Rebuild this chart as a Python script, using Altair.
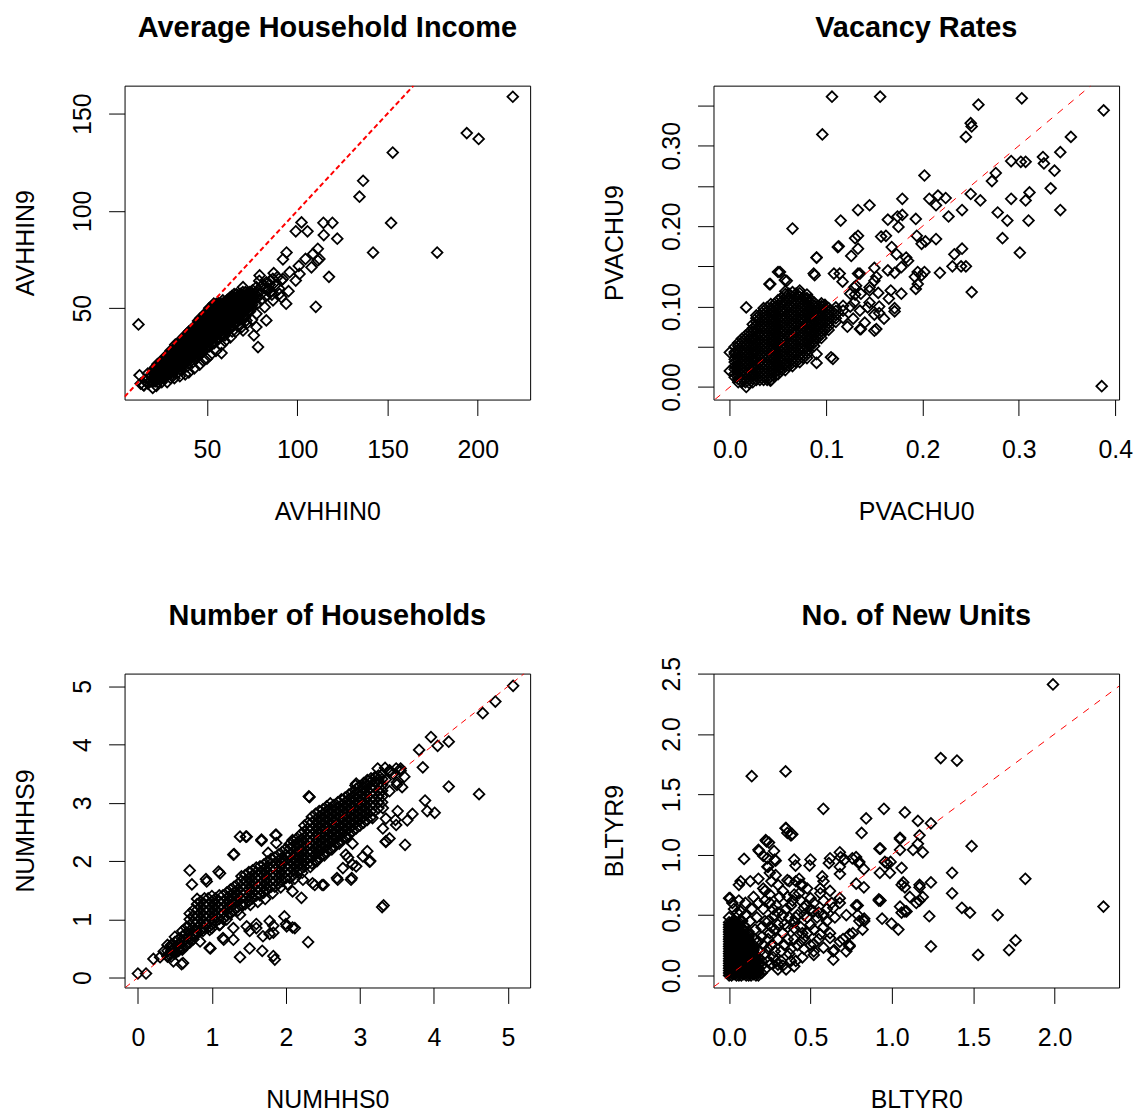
import altair as alt
import pandas as pd

FONT = "Liberation Sans"

# ---------------- Panel 1: Average Household Income ----------------
avhhin_pairs = [
    (219.4, 158.7), (193.9, 140.0), (200.5, 137.0), (152.9, 130.0), (136.5, 115.5),
    (134.5, 107.3), (152.0, 93.8), (142.0, 78.6), (177.5, 78.6), (102.4, 94.1),
    (99.2, 89.5), (105.7, 89.5), (114.5, 93.9), (119.5, 93.9), (114.7, 87.6),
    (122.2, 85.7), (94.1, 78.6), (92.1, 75.1), (108.8, 77.9), (111.4, 80.5),
    (112.3, 75.3), (107.9, 71.0), (104.6, 75.3), (100.9, 71.7), (101.3, 67.6),
    (95.8, 68.5), (99.2, 64.2), (117.6, 66.1), (110.3, 50.7), (79.2, 66.8),
    (86.5, 65.1), (95.2, 58.7), (91.2, 55.6), (93.9, 52.3), (77.4, 40.3),
    (78.3, 30.0), (12.1, 41.6), (58.1, 26.9), (91.2, 64.2), (111.4, 74.5),
    (82.9, 63.3), (83.8, 59.1), (77.4, 60.8), (74.6, 57.3), (90.2, 57.3),
    (86.6, 54.0), (70.0, 60.8), (71.9, 55.6), (68.2, 52.2), (64.5, 48.8),
    (77.4, 47.1), (71.9, 43.7), (82.0, 50.5), (82.9, 43.7), (70.0, 38.5),
    (12.7, 15.5), (14.9, 10.4), (13.3, 11.2),
    (20, 9), (22, 10), (25, 12), (28, 12), (30, 14), (32, 14), (35, 15), (38, 16),
    (40, 17), (43, 19), (46, 21), (48, 23), (50, 24), (52, 26), (55, 28), (58, 31),
    (60, 33), (63, 35), (66, 38), (69, 40), (72, 42), (75, 44), (76, 36),
    (46, 26), (44, 24), (42, 22), (39, 20), (36, 18), (34, 17), (31, 16),
    (28, 17), (26, 14), (23, 12), (54, 32), (56, 34), (60, 36), (64, 38), (68, 41),
    (71, 45), (84, 60), (85, 64), (86, 57), (88, 62), (89, 66), (90, 60), (92, 65),
    (87, 68), (81, 62), (79, 64),
]
avhhin_dense = [
    (15.2, 10.3), (15.6, 13.1), (17.4, 11.2), (17.8, 14.2), (17.3, 16.4),
    (20.1, 12.3), (19.8, 15.2), (20.3, 18.1), (22.4, 13.2), (22.7, 16.3), (22.3, 19.1),
    (22.6, 21.2), (25.2, 14.1), (24.8, 17.3), (25.1, 20.2), (25.3, 23.1), (27.4, 16.2),
    (27.7, 19.1), (27.6, 22.3), (27.3, 25.2), (30.2, 17.1), (29.8, 20.3), (30.1, 23.2),
    (30.3, 26.1), (29.9, 28.2), (32.6, 19.3), (32.4, 22.1), (32.7, 25.3), (32.3, 28.1),
    (32.5, 31.2), (35.1, 20.2), (34.8, 23.1), (35.2, 26.3), (35.3, 29.2), (34.9, 32.1),
    (37.4, 22.3), (37.6, 25.1), (37.5, 28.2), (37.3, 31.3), (37.7, 34.1), (40.1, 24.2),
    (39.8, 27.3), (40.2, 30.1), (40.3, 33.2), (39.9, 36.3), (40.1, 38.1), (42.6, 25.3),
    (42.4, 28.2), (42.7, 31.1), (42.5, 34.3), (42.3, 37.2), (42.6, 40.1), (45.2, 27.1),
    (44.9, 30.2), (45.1, 33.3), (45.3, 36.1), (44.8, 39.2), (45.2, 42.3), (47.4, 29.2),
    (47.6, 32.3), (47.5, 35.1), (47.3, 38.2), (47.7, 41.3), (47.5, 44.1), (50.1, 30.3),
    (49.8, 33.1), (50.2, 36.2), (50.3, 39.3), (49.9, 42.1), (50.1, 45.2), (50.2, 48.1),
    (52.6, 32.1), (52.4, 35.3), (52.7, 38.2), (52.5, 41.1), (52.3, 44.3), (52.6, 47.2),
    (52.4, 50.1), (55.1, 34.2), (54.8, 37.1), (55.2, 40.3), (55.3, 43.2), (54.9, 46.1),
    (55.1, 49.3), (55.2, 52.2), (57.4, 36.3), (57.6, 39.2), (57.5, 42.1), (57.3, 45.3),
    (57.7, 48.2), (57.5, 51.1), (60.1, 38.2), (59.8, 41.3), (60.2, 44.1), (60.3, 47.2),
    (59.9, 50.3), (60.1, 53.1), (62.6, 40.1), (62.4, 43.2), (62.7, 46.3), (62.5, 49.1),
    (62.3, 52.2), (62.6, 55.3), (65.1, 42.3), (64.8, 45.1), (65.2, 48.2), (65.3, 51.3),
    (64.9, 54.1), (65.1, 57.2), (67.4, 44.2), (67.6, 47.3), (67.5, 50.1), (67.3, 53.2),
    (67.7, 56.3), (70.1, 46.1), (69.8, 49.2), (70.2, 52.3), (70.3, 55.1), (69.9, 58.2),
    (72.6, 48.3), (72.4, 51.1), (72.7, 54.2), (72.5, 57.3), (75.1, 50.2), (74.8, 53.3),
    (75.2, 56.1), (75.3, 59.2), (77.6, 52.1), (77.4, 55.2), (77.7, 58.3), (80.1, 54.3),
    (79.8, 57.1), (80.2, 61.2), (82.6, 56.2), (82.4, 60.1), (85.1, 58.3), (84.8, 62.2),
]
# core of the black band, read column by column (AVHHIN0 value: AVHHIN9 values)
avhhin_core_cols = {
    16.3: [12.5], 18.8: [12.6, 15.5], 21.3: [13.7, 16.6, 19.5, 12.3, 15.2, 18.1],
    23.8: [14.6, 17.7, 20.4, 13.2, 16.3, 19.1, 21.2],
    26.3: [15.5, 18.6, 21.7, 24.4, 14.1, 17.3, 20.2, 23.1],
    28.8: [17.6, 20.5, 23.6, 26.5, 16.2, 19.1, 22.3, 25.2],
    31.3: [18.5, 21.6, 24.5, 27.6, 17.1, 20.3, 23.2, 26.1, 28.2],
    33.8: [20.6, 23.5, 26.6, 29.5, 19.3, 22.1, 25.3, 28.1, 31.2],
    36.3: [21.5, 24.6, 27.5, 30.6, 33.3, 20.2, 23.1, 26.3, 29.2, 32.1],
    38.8: [23.4, 26.5, 29.6, 32.5, 35.6, 22.3, 25.1, 28.2, 31.3, 34.1, 36.8],
    41.3: [25.5, 28.6, 31.5, 34.6, 37.5, 24.2, 27.3, 30.1, 33.2, 36.3, 38.9],
    43.8: [26.6, 29.5, 32.6, 35.5, 38.6, 41.2, 25.3, 28.2, 31.1, 34.3, 37.2, 40.1],
    46.3: [28.5, 31.6, 34.5, 37.6, 40.5, 43.4, 27.1, 30.2, 33.3, 36.1, 39.2, 42.3, 44.8],
    48.8: [31.6, 34.5, 37.6, 40.5, 43.6, 46.3, 29.2, 32.3, 35.1, 38.2, 41.3, 44.1, 47.0],
    51.3: [33.5, 36.6, 39.5, 42.6, 45.5, 48.4, 30.3, 33.1, 36.2, 39.3, 42.1, 45.2, 48.1, 50.0],
    53.8: [35.6, 38.5, 41.6, 44.5, 47.6, 50.5, 32.1, 35.3, 38.2, 41.1, 44.3, 47.2, 50.1, 52.3],
    56.3: [37.5, 40.6, 43.5, 46.6, 49.5, 52.4, 34.2, 37.1, 40.3, 43.2, 46.1, 49.3, 52.2],
    58.8: [40.6, 43.5, 46.6, 49.5, 52.3, 36.3, 39.2, 42.1, 45.3, 48.2, 51.1, 54.0],
    61.3: [42.5, 45.6, 48.5, 51.6, 54.3, 38.2, 41.3, 44.1, 47.2, 50.3, 53.1],
    63.8: [44.6, 47.5, 50.6, 53.5, 56.2, 40.1, 43.2, 46.3, 49.1, 52.2, 55.3],
    66.3: [46.5, 49.6, 52.5, 55.6, 42.3, 45.1, 48.2, 51.3, 54.1, 57.2],
    68.8: [48.6, 51.5, 54.6, 57.3, 44.2, 47.3, 50.1, 53.2, 56.3],
    71.3: [50.5, 53.6, 56.5, 46.1, 49.2, 52.3, 55.1, 58.2],
    73.8: [52.6, 55.5, 58.2, 48.3, 51.1, 54.2, 57.3],
    76.3: [54.5, 57.6],
    20.1: [13.8, 16.7], 22.5: [14.7, 17.8, 20.2], 25.1: [15.6, 18.8, 21.7],
    27.5: [17.7, 20.6, 23.8], 30.1: [18.6, 21.8, 24.7, 27.2], 32.5: [20.8, 23.6, 26.8, 29.6],
    35.1: [21.7, 24.6, 27.8, 30.7, 33.3], 37.5: [23.8, 26.6, 29.7, 32.8, 35.4],
    40.1: [25.7, 28.8, 31.6, 34.7, 37.3], 42.5: [26.8, 29.7, 32.6, 35.8, 38.7],
    45.1: [28.6, 31.7, 34.8, 37.6, 40.7, 43.4], 47.5: [30.7, 33.8, 36.6, 39.7, 42.8, 45.3],
    50.1: [31.8, 34.6, 37.7, 40.8, 43.6, 46.7], 52.5: [33.6, 36.8, 39.7, 42.6, 45.8, 48.7],
    55.1: [35.7, 38.6, 41.8, 44.7, 47.6, 50.8], 57.5: [37.8, 40.7, 43.6, 46.8, 49.7, 52.4],
    60.1: [39.7, 42.8, 45.6, 48.7, 51.8], 62.5: [41.6, 44.7, 47.8, 50.6, 53.7],
    65.1: [43.8, 46.6, 49.7, 52.8, 55.6], 67.5: [45.7, 48.8, 51.6, 54.7],
    70.1: [47.6, 50.7, 53.8, 56.6], 72.5: [49.8, 52.6, 55.7], 75.1: [51.7, 54.8, 57.6],
}

# ---------------- Panel 2: Vacancy Rates ----------------
pvachu_pairs = [
    (0.106, 0.361), (0.156, 0.361), (0.303, 0.359), (0.258, 0.351), (0.388, 0.344),
    (0.096, 0.314), (0.250, 0.328), (0.251, 0.324), (0.245, 0.311), (0.354, 0.311),
    (0.343, 0.292), (0.325, 0.286), (0.326, 0.278), (0.337, 0.269), (0.333, 0.247),
    (0.343, 0.220), (0.292, 0.281), (0.302, 0.280), (0.307, 0.280), (0.276, 0.266),
    (0.272, 0.256), (0.311, 0.242), (0.307, 0.232), (0.292, 0.234), (0.278, 0.217),
    (0.288, 0.207), (0.310, 0.207), (0.283, 0.185), (0.301, 0.167), (0.386, 0.001),
    (0.202, 0.263), (0.250, 0.240), (0.260, 0.232), (0.241, 0.220), (0.227, 0.212),
    (0.207, 0.234), (0.216, 0.238), (0.224, 0.235), (0.214, 0.226), (0.179, 0.234),
    (0.145, 0.226), (0.133, 0.220), (0.115, 0.207), (0.065, 0.197), (0.164, 0.208),
    (0.174, 0.212), (0.179, 0.214), (0.175, 0.199), (0.193, 0.209), (0.133, 0.188),
    (0.130, 0.185), (0.157, 0.187), (0.162, 0.188), (0.194, 0.188), (0.203, 0.181),
    (0.214, 0.184), (0.199, 0.178), (0.113, 0.175), (0.133, 0.172), (0.126, 0.163),
    (0.090, 0.161), (0.168, 0.174), (0.183, 0.161), (0.173, 0.165), (0.241, 0.172),
    (0.233, 0.165), (0.240, 0.150), (0.245, 0.150), (0.231, 0.150), (0.218, 0.142),
    (0.251, 0.118), (0.185, 0.157), (0.178, 0.149), (0.195, 0.143), (0.199, 0.139),
    (0.202, 0.143), (0.192, 0.137), (0.195, 0.128), (0.193, 0.122), (0.150, 0.148),
    (0.164, 0.145), (0.171, 0.142), (0.150, 0.132), (0.145, 0.120), (0.154, 0.117),
    (0.167, 0.120), (0.178, 0.116), (0.171, 0.098), (0.171, 0.094), (0.155, 0.092),
    (0.150, 0.070), (0.136, 0.072), (0.143, 0.099), (0.129, 0.105), (0.108, 0.141),
    (0.117, 0.131), (0.133, 0.141), (0.129, 0.124), (0.136, 0.116), (0.125, 0.116),
    (0.087, 0.141), (0.050, 0.143), (0.059, 0.132), (0.042, 0.128), (0.090, 0.030),
    (0.107, 0.035), (0.057, 0.028), (0.042, 0.008), (0.017, 0.000),
    (0.0, 0.043), (0.0, 0.02), (0.017, 0.099), (0.041, 0.128), (0.052, 0.143),
    (0.057, 0.133), (0.090, 0.161), (0.088, 0.139), (0.112, 0.174), (0.114, 0.141),
    (0.135, 0.141), (0.152, 0.137), (0.131, 0.126), (0.145, 0.124), (0.152, 0.072),
    (0.135, 0.072), (0.105, 0.037), (0.090, 0.041), (0.057, 0.029), (0.043, 0.009),
    (0.122, 0.075), (0.128, 0.085), (0.135, 0.095), (0.14, 0.08), (0.145, 0.105),
    (0.15, 0.09), (0.155, 0.1), (0.16, 0.085), (0.165, 0.11), (0.125, 0.1), (0.13, 0.115),
]
# black cluster near the origin, read column by column (PVACHU0: PVACHU9 values)
pvachu_core_cols = {
    0.005: [0.012, 0.0165, 0.022, 0.0255, 0.031, 0.0345, 0.041, 0.0435, 0.050],
    0.0087: [0.006, 0.010, 0.015, 0.019, 0.024, 0.028, 0.033, 0.037, 0.042, 0.046, 0.051, 0.055],
    0.0125: [0.006, 0.0105, 0.015, 0.0195, 0.024, 0.0285, 0.033, 0.0375, 0.042, 0.0465,
             0.051, 0.0555, 0.060],
    0.0162: [0.006, 0.010, 0.015, 0.019, 0.024, 0.028, 0.033, 0.037, 0.042, 0.046, 0.051,
             0.055, 0.060, 0.064],
    0.020: [0.005, 0.0095, 0.014, 0.0185, 0.023, 0.0275, 0.032, 0.0365, 0.041, 0.0455,
            0.050, 0.0545, 0.059, 0.0635, 0.068],
    0.0237: [0.006, 0.010, 0.015, 0.019, 0.024, 0.028, 0.033, 0.037, 0.042, 0.046, 0.051,
             0.055, 0.060, 0.064, 0.069, 0.073, 0.078],
    0.0275: [0.009, 0.0135, 0.018, 0.0225, 0.027, 0.0315, 0.036, 0.0405, 0.045, 0.0495,
             0.054, 0.0585, 0.063, 0.0675, 0.072, 0.0765, 0.081, 0.0855, 0.089],
    0.0312: [0.009, 0.013, 0.018, 0.022, 0.027, 0.031, 0.036, 0.040, 0.045, 0.049, 0.054,
             0.058, 0.063, 0.067, 0.072, 0.076, 0.081, 0.085, 0.090],
    0.035: [0.009, 0.0135, 0.018, 0.0225, 0.027, 0.0315, 0.036, 0.0405, 0.045, 0.0495,
            0.054, 0.0585, 0.063, 0.0675, 0.072, 0.0765, 0.081, 0.0855, 0.090, 0.0945, 0.098],
    0.0387: [0.009, 0.013, 0.018, 0.022, 0.027, 0.031, 0.036, 0.040, 0.045, 0.049, 0.054,
             0.058, 0.063, 0.067, 0.072, 0.076, 0.081, 0.085, 0.090, 0.094, 0.099],
    0.0425: [0.013, 0.0175, 0.022, 0.0265, 0.031, 0.0355, 0.040, 0.0445, 0.049, 0.0535,
             0.058, 0.0625, 0.067, 0.0715, 0.076, 0.0805, 0.085, 0.0895, 0.094, 0.0985, 0.103],
    0.0462: [0.013, 0.018, 0.022, 0.027, 0.031, 0.036, 0.040, 0.045, 0.049, 0.054, 0.058,
             0.063, 0.067, 0.072, 0.076, 0.081, 0.085, 0.090, 0.094, 0.099, 0.103],
    0.050: [0.016, 0.0205, 0.025, 0.0295, 0.034, 0.0385, 0.043, 0.0475, 0.052, 0.0565,
            0.061, 0.0655, 0.070, 0.0745, 0.079, 0.0835, 0.088, 0.0925, 0.097, 0.1015, 0.108],
    0.0537: [0.021, 0.025, 0.030, 0.034, 0.039, 0.043, 0.048, 0.052, 0.057, 0.061, 0.066,
             0.070, 0.075, 0.079, 0.084, 0.088, 0.093, 0.097, 0.102, 0.106, 0.111],
    0.0575: [0.021, 0.0255, 0.030, 0.0345, 0.039, 0.0435, 0.048, 0.0525, 0.057, 0.0615,
             0.066, 0.0705, 0.075, 0.0795, 0.084, 0.0885, 0.093, 0.0975, 0.102, 0.1065,
             0.111, 0.1155, 0.119],
    0.0612: [0.026, 0.030, 0.035, 0.039, 0.044, 0.048, 0.053, 0.057, 0.062, 0.066, 0.071,
             0.075, 0.080, 0.084, 0.089, 0.093, 0.098, 0.102, 0.107, 0.111, 0.116],
    0.065: [0.026, 0.0305, 0.035, 0.0395, 0.044, 0.0485, 0.053, 0.0575, 0.062, 0.0665,
            0.071, 0.0755, 0.080, 0.0845, 0.089, 0.0935, 0.098, 0.1025, 0.107, 0.1115, 0.118],
    0.0687: [0.031, 0.035, 0.040, 0.044, 0.049, 0.053, 0.058, 0.062, 0.067, 0.071, 0.076,
             0.080, 0.085, 0.089, 0.094, 0.098, 0.103, 0.107, 0.112, 0.116],
    0.0725: [0.031, 0.0355, 0.040, 0.0445, 0.049, 0.0535, 0.058, 0.0625, 0.067, 0.0715,
             0.076, 0.0805, 0.085, 0.0895, 0.094, 0.0985, 0.103, 0.1075, 0.112, 0.1165, 0.120],
    0.0762: [0.036, 0.040, 0.045, 0.049, 0.054, 0.058, 0.063, 0.067, 0.072, 0.076, 0.081,
             0.085, 0.090, 0.094, 0.099, 0.103, 0.108, 0.112],
    0.080: [0.036, 0.0405, 0.045, 0.0495, 0.054, 0.0585, 0.063, 0.0675, 0.072, 0.0765,
            0.081, 0.0855, 0.090, 0.0945, 0.099, 0.1035, 0.108, 0.1105, 0.115],
    0.0837: [0.051, 0.055, 0.060, 0.064, 0.069, 0.073, 0.078, 0.082, 0.087, 0.091, 0.096,
             0.100, 0.105, 0.109],
    0.0875: [0.051, 0.0555, 0.060, 0.0645, 0.069, 0.0735, 0.078, 0.0825, 0.087, 0.0915,
             0.096, 0.1005, 0.105],
    0.0912: [0.061, 0.065, 0.070, 0.074, 0.079, 0.083, 0.088, 0.092, 0.097, 0.101],
    0.095: [0.061, 0.0655, 0.070, 0.0745, 0.079, 0.0835, 0.088, 0.0925, 0.097, 0.1005, 0.104],
    0.0987: [0.071, 0.075, 0.080, 0.084, 0.089, 0.093, 0.098, 0.102],
    0.1025: [0.071, 0.0755, 0.080, 0.0845, 0.089, 0.0935, 0.098],
    0.1062: [0.085, 0.094], 0.110: [0.081, 0.0855, 0.090, 0.0945, 0.099],
    0.1175: [0.086, 0.095, 0.101],
}

# ---------------- Panel 3: Number of Households ----------------
numhhs_pairs = [
    (5.07, 5.01), (4.83, 4.74), (4.66, 4.54), (3.96, 4.13), (4.05, 3.98), (4.20, 4.05),
    (3.80, 3.91), (3.85, 3.61), (4.20, 3.28), (4.61, 3.15), (3.88, 3.04), (3.91, 2.86),
    (4.01, 2.83), (3.71, 2.81), (3.64, 2.70), (3.48, 2.71), (3.61, 2.28), (3.30, 1.21),
    (3.32, 1.24), (2.31, 3.11), (3.34, 3.60), (3.40, 3.56), (3.24, 3.59), (3.08, 3.33),
    (2.94, 3.30), (3.55, 3.59), (3.50, 3.31), (3.57, 3.27), (3.51, 2.86), (3.35, 2.73),
    (3.35, 2.33), (3.10, 2.17), (3.14, 2.00), (2.95, 1.91), (2.89, 1.71), (2.84, 2.06),
    (2.69, 1.71), (2.51, 1.59), (2.39, 1.59), (2.30, 0.61), (1.83, 0.37), (1.85, 0.31),
    (1.38, 0.35), (1.51, 0.50), (1.68, 0.46), (0.61, 0.25), (0.21, 0.32), (0.11, 0.07),
    (0.00, 0.07), (0.70, 1.84), (0.73, 1.60), (0.92, 1.69), (1.09, 1.82), (1.38, 2.42),
    (1.46, 2.42), (1.67, 2.35), (1.30, 2.12), (1.86, 2.45), (1.98, 1.05), (2.09, 0.86),
    (2.00, 0.92), (1.83, 0.89), (1.78, 0.75), (1.60, 0.92), (0.98, 0.50), (1.16, 0.65),
    (1.29, 0.65), (1.51, 0.80),
    (0.3, 0.35), (0.35, 0.45), (0.4, 0.38), (0.45, 0.55), (0.5, 0.45), (0.55, 0.5),
    (0.6, 0.48), (0.65, 0.55), (0.7, 0.65), (0.75, 0.72), (0.88, 0.8), (0.92, 0.9),
    (1.0, 0.85), (1.1, 0.9), (1.2, 1.0), (1.25, 1.1), (1.35, 1.15), (1.42, 1.25),
    (1.52, 1.25), (1.62, 1.3), (1.72, 1.35), (1.82, 1.45), (1.93, 1.55), (2.02, 1.6),
    (2.12, 1.7), (2.22, 1.8), (2.33, 1.9), (2.42, 2.0), (2.52, 2.1), (2.62, 2.2),
    (2.72, 2.3), (2.82, 2.4), (2.9, 2.3),
    (0.93, 1.65), (1.11, 1.79), (1.29, 2.11), (1.47, 2.42), (1.67, 2.37), (1.87, 2.45),
    (1.87, 2.31), (2.09, 2.36), (2.32, 3.10), (1.76, 2.14), (1.96, 2.02), (2.23, 2.05),
    (2.34, 2.16), (2.36, 1.62), (2.49, 1.59), (2.70, 1.68), (2.88, 1.68), (3.13, 1.99),
    (2.90, 1.94), (2.77, 1.88), (3.04, 2.08), (2.81, 2.11), (2.23, 1.68), (2.21, 1.37),
    (2.09, 1.48), (2.12, 0.85), (2.01, 0.88), (1.83, 0.77), (1.69, 0.71),
    (1.78, 0.97), (1.60, 0.85), (1.47, 0.88), (1.38, 1.08), (1.29, 0.85), (1.15, 0.68),
    (0.97, 0.51), (0.84, 0.62), (0.79, 0.79), (0.59, 0.23), (0.48, 0.28), (0.97, 0.82),
    (1.11, 0.91), (3.17, 2.74), (3.31, 2.56), (3.40, 2.39), (3.49, 2.62),
    (3.31, 2.91), (2.95, 3.33), (3.22, 3.36), (3.40, 3.53), (3.49, 3.59), (3.35, 2.34),
    (3.45, 3.5), (3.5, 3.35), (3.55, 3.55), (3.6, 3.45), (3.4, 3.2), (3.35, 3.4),
]
# black band along the diagonal, read column by column (NUMHHS0: NUMHHS9 values)
numhhs_core_cols = {
    0.40: [0.36, 0.46, 0.56], 0.45: [0.36, 0.41, 0.46, 0.51, 0.56],
    0.50: [0.41, 0.51, 0.61, 0.70], 0.55: [0.46, 0.56, 0.66],
    0.60: [0.51, 0.61, 0.71, 0.80], 0.65: [0.56, 0.66, 0.76, 0.86],
    0.70: [0.60, 0.70, 0.80, 0.90, 1.00, 1.10], 0.75: [0.66, 0.76, 0.86, 0.96, 1.06, 1.16],
    0.80: [0.76, 0.86, 0.96, 1.06, 1.16, 1.26, 1.35], 0.85: [0.81, 0.91, 1.01, 1.11, 1.21, 1.31],
    0.90: [0.86, 0.96, 1.06, 1.16, 1.26, 1.36], 0.95: [0.86, 0.96, 1.06, 1.16, 1.26, 1.36],
    1.00: [0.91, 1.01, 1.11, 1.21, 1.31, 1.40], 1.05: [0.96, 1.06, 1.16, 1.26, 1.36],
    1.10: [1.01, 1.11, 1.21, 1.31, 1.41], 1.15: [1.01, 1.11, 1.21, 1.31, 1.41],
    1.20: [1.06, 1.16, 1.26, 1.36, 1.46], 1.25: [1.11, 1.21, 1.31, 1.41, 1.51],
    1.30: [1.16, 1.26, 1.36, 1.46, 1.56], 1.35: [1.21, 1.31, 1.41, 1.51, 1.61],
    1.40: [1.26, 1.36, 1.46, 1.56, 1.66, 1.74], 1.45: [1.26, 1.36, 1.46, 1.56, 1.66, 1.76],
    1.50: [1.31, 1.41, 1.51, 1.61, 1.71, 1.81], 1.55: [1.36, 1.46, 1.56, 1.66, 1.76, 1.84],
    1.60: [1.41, 1.51, 1.61, 1.71, 1.81, 1.89], 1.65: [1.41, 1.51, 1.61, 1.71, 1.81, 1.91],
    1.70: [1.46, 1.56, 1.66, 1.76, 1.86, 1.94], 1.75: [1.51, 1.61, 1.71, 1.81, 1.91, 1.99],
    1.80: [1.56, 1.66, 1.76, 1.86, 1.96, 2.04], 1.85: [1.56, 1.66, 1.76, 1.86, 1.96, 2.06],
    1.90: [1.61, 1.71, 1.81, 1.91, 2.01, 2.11], 1.95: [1.66, 1.76, 1.86, 1.96, 2.06, 2.16],
    2.00: [1.71, 1.81, 1.91, 2.01, 2.11, 2.21], 2.05: [1.71, 1.81, 1.91, 2.01, 2.11, 2.21, 2.29],
    2.10: [1.76, 1.86, 1.96, 2.06, 2.16, 2.26, 2.34],
    2.15: [1.81, 1.91, 2.01, 2.11, 2.21, 2.31, 2.39],
    2.20: [1.86, 1.96, 2.06, 2.16, 2.26, 2.36, 2.46],
    2.25: [1.91, 2.01, 2.11, 2.21, 2.31, 2.41, 2.51, 2.61],
    2.30: [1.96, 2.06, 2.16, 2.26, 2.36, 2.46, 2.56, 2.66],
    2.35: [1.96, 2.06, 2.16, 2.26, 2.36, 2.46, 2.56, 2.66, 2.76],
    2.40: [2.01, 2.11, 2.21, 2.31, 2.41, 2.51, 2.61, 2.71, 2.81],
    2.45: [2.06, 2.16, 2.26, 2.36, 2.46, 2.56, 2.66, 2.76, 2.86],
    2.50: [2.11, 2.21, 2.31, 2.41, 2.51, 2.61, 2.71, 2.81, 2.89],
    2.55: [2.16, 2.26, 2.36, 2.46, 2.56, 2.66, 2.76, 2.86, 2.94],
    2.60: [2.21, 2.31, 2.41, 2.51, 2.61, 2.71, 2.81, 2.91, 2.99],
    2.65: [2.26, 2.36, 2.46, 2.56, 2.66, 2.76, 2.86, 2.96],
    2.70: [2.31, 2.41, 2.51, 2.61, 2.71, 2.81, 2.91, 3.01],
    2.75: [2.36, 2.46, 2.56, 2.66, 2.76, 2.86, 2.96, 3.06],
    2.80: [2.41, 2.51, 2.61, 2.71, 2.81, 2.91, 3.01, 3.09],
    2.85: [2.46, 2.56, 2.66, 2.76, 2.86, 2.96, 3.06, 3.14],
    2.90: [2.51, 2.61, 2.71, 2.81, 2.91, 3.01, 3.11, 3.19],
    2.95: [2.56, 2.66, 2.76, 2.86, 2.96, 3.06, 3.16, 3.24],
    3.00: [2.61, 2.71, 2.81, 2.91, 3.01, 3.11, 3.21, 3.29],
    3.05: [2.66, 2.76, 2.86, 2.96, 3.06, 3.16, 3.26, 3.34],
    3.10: [2.71, 2.81, 2.91, 3.01, 3.11, 3.21, 3.31, 3.39],
    3.15: [2.76, 2.86, 2.96, 3.06, 3.16, 3.26, 3.36, 3.42],
    3.20: [2.86, 2.96, 3.06, 3.16, 3.26, 3.36, 3.44],
    3.25: [2.91, 3.01, 3.11, 3.21, 3.31, 3.41, 3.47],
    3.30: [3.01, 3.11, 3.21, 3.31, 3.41, 3.49],
}

# ---------------- Panel 4: No. of New Units ----------------
bltyr_pairs = [
    (1.99, 2.41), (1.30, 1.80), (1.40, 1.78), (0.139, 1.65), (0.347, 1.69), (0.579, 1.38),
    (0.951, 1.38), (1.08, 1.35), (1.16, 1.28), (1.24, 1.26), (0.842, 1.30), (0.814, 1.18),
    (1.05, 1.13), (1.05, 1.04), (1.16, 1.09), (1.19, 1.02), (1.49, 1.07), (0.924, 1.05),
    (0.957, 0.94), (0.992, 0.94), (0.926, 0.85), (0.988, 0.85), (1.82, 0.80), (2.30, 0.57),
    (1.37, 0.85), (1.37, 0.68), (1.43, 0.56), (1.48, 0.52), (1.65, 0.50), (1.76, 0.29),
    (1.72, 0.21), (1.53, 0.17), (1.24, 0.24), (1.23, 0.49), (1.24, 0.77), (1.17, 0.73),
    (1.19, 0.65), (1.15, 0.60), (1.06, 0.75), (1.08, 0.73), (1.06, 0.52), (1.09, 0.53),
    (0.92, 0.62), (0.93, 0.62), (0.94, 0.47), (0.998, 0.43), (1.04, 0.38), (0.79, 0.58),
    (0.79, 0.50), (0.83, 0.45), (0.82, 0.38), (0.76, 0.35), (0.74, 0.24), (0.70, 0.30),
    (0.645, 0.21), (0.64, 0.13), (0.40, 0.075), (0.30, 0.09), (0.52, 0.20), (0.685, 0.98),
    (0.757, 0.97), (0.797, 0.93), (0.828, 0.88), (0.681, 0.84), (0.781, 0.76), (0.828, 0.73),
    (0.613, 0.93), (0.494, 0.91), (0.408, 0.91), (0.358, 1.18), (0.388, 1.17), (0.347, 1.22),
    (0.225, 1.12), (0.245, 1.10), (0.184, 1.03), (0.276, 1.03), (0.235, 0.97), (0.286, 0.95),
    (0.235, 0.90), (0.286, 0.83), (0.092, 0.965), (0.071, 0.78), (0.0, 0.64), (0.358, 0.79),
    (0.44, 0.75), (0.572, 0.82),
    (0.2, 0.32), (0.22, 0.45), (0.24, 0.12), (0.25, 0.6), (0.26, 0.25), (0.28, 0.38),
    (0.3, 0.05), (0.3, 0.52), (0.32, 0.2), (0.33, 0.7), (0.34, 0.42), (0.36, 0.3),
    (0.38, 0.58), (0.38, 0.12), (0.4, 0.45), (0.41, 0.78), (0.42, 0.25), (0.44, 0.62),
    (0.45, 0.35), (0.46, 0.5), (0.48, 0.72), (0.5, 0.42), (0.5, 0.25), (0.52, 0.6),
    (0.54, 0.48), (0.55, 0.3), (0.56, 0.68), (0.58, 0.4), (0.6, 0.55), (0.62, 0.35),
    (0.65, 0.48), (0.68, 0.6), (0.22, 0.7), (0.18, 0.8), (0.15, 0.65), (0.25, 0.85),
    (0.27, 0.15), (0.35, 0.05), (0.45, 0.15), (0.47, 0.58), (0.43, 0.8), (0.36, 0.65),
    (0.3, 0.75),
    (0.18, 1.04), (0.21, 0.99), (0.23, 1.11), (0.28, 0.96), (0.24, 0.90), (0.35, 1.22),
    (0.38, 1.16), (0.40, 0.96), (0.50, 0.96), (0.62, 0.97), (0.68, 1.02), (0.71, 0.96),
    (0.68, 0.90), (0.80, 0.94), (0.78, 0.98), (0.37, 0.78), (0.45, 0.75), (0.40, 0.67),
    (0.50, 0.64), (0.56, 0.72), (0.58, 0.78), (0.62, 0.70), (0.68, 0.64), (0.64, 0.56),
    (0.58, 0.50), (0.52, 0.53), (0.46, 0.56), (0.41, 0.48), (0.33, 0.50), (0.29, 0.58),
    (0.25, 0.67), (0.21, 0.72), (0.13, 0.78), (0.06, 0.75), (0.006, 0.64), (0.07, 0.53),
    (0.72, 0.50), (0.78, 0.58), (0.80, 0.45), (0.83, 0.47), (0.74, 0.34), (0.68, 0.28),
    (0.62, 0.31), (0.56, 0.34), (0.52, 0.26), (0.58, 0.23), (0.64, 0.20), (0.52, 0.17),
    (0.46, 0.31), (0.40, 0.39), (0.74, 0.25), (0.72, 0.20),
    (0.93, 1.05), (0.97, 0.93), (1.05, 1.14), (1.06, 0.89), (1.13, 1.04), (1.17, 1.16),
    (1.07, 0.77), (1.17, 0.75), (1.11, 0.65), (1.05, 0.57), (1.08, 0.53), (1.17, 0.62),
    (0.92, 0.63),
    (0.24, 0.3), (0.26, 0.4), (0.28, 0.5), (0.21, 0.55), (0.18, 0.6), (0.14, 0.55),
    (0.1, 0.6), (0.06, 0.62), (0.03, 0.55), (0.2, 0.12), (0.22, 0.05), (0.2, 0.02),
    (0.16, 0.38), (0.18, 0.28), (0.13, 0.45), (0.19, 0.2), (0.1, 0.5), (0.02, 0.6),
    (0.05, 0.52), (0.0, 0.48), (0.08, 0.45),
    (0.20, 0.08), (0.22, 0.18), (0.24, 0.22), (0.26, 0.10), (0.28, 0.20), (0.30, 0.30),
    (0.32, 0.12), (0.34, 0.25), (0.36, 0.40), (0.38, 0.22), (0.40, 0.30), (0.42, 0.50),
    (0.44, 0.40), (0.46, 0.22), (0.48, 0.35), (0.50, 0.55), (0.24, 0.45), (0.27, 0.55),
    (0.30, 0.42), (0.33, 0.35), (0.35, 0.55), (0.37, 0.48), (0.39, 0.62), (0.43, 0.68),
    (0.31, 0.65), (0.26, 0.78), (0.20, 0.40), (0.22, 0.62), (0.17, 0.48), (0.16, 0.30),
    (0.21, 0.25), (0.25, 0.35), (0.29, 0.12), (0.33, 0.08), (0.37, 0.18), (0.41, 0.12),
    (0.44, 0.28), (0.48, 0.48), (0.52, 0.38), (0.55, 0.52), (0.58, 0.62), (0.60, 0.45),
    (0.63, 0.60),
]
# black block at the origin, read column by column (BLTYR0: BLTYR9 values)
bltyr_core_cols = {
    0.000: [0.00, 0.02, 0.04, 0.06, 0.08, 0.10, 0.12, 0.14, 0.16, 0.18, 0.20, 0.22, 0.24,
            0.26, 0.28, 0.30, 0.32, 0.34, 0.36, 0.38, 0.40, 0.42, 0.44],
    0.015: [0.00, 0.02, 0.04, 0.06, 0.08, 0.10, 0.12, 0.14, 0.16, 0.18, 0.20, 0.22, 0.24,
            0.26, 0.28, 0.30, 0.32, 0.34, 0.36, 0.38, 0.40, 0.42, 0.44],
    0.030: [0.01, 0.02, 0.05, 0.06, 0.09, 0.10, 0.13, 0.14, 0.17, 0.18, 0.21, 0.22, 0.25,
            0.26, 0.29, 0.30, 0.33, 0.34, 0.37, 0.38, 0.41, 0.42, 0.45],
    0.045: [0.00, 0.02, 0.04, 0.06, 0.08, 0.10, 0.12, 0.14, 0.16, 0.18, 0.20, 0.22, 0.24,
            0.26, 0.28, 0.30, 0.32, 0.34, 0.36, 0.38, 0.40, 0.42, 0.44],
    0.060: [0.00, 0.02, 0.04, 0.06, 0.08, 0.10, 0.12, 0.14, 0.16, 0.18, 0.20, 0.22, 0.24,
            0.26, 0.28, 0.30, 0.32, 0.34, 0.36, 0.38, 0.40, 0.42, 0.44],
    0.075: [0.00, 0.02, 0.04, 0.06, 0.08, 0.10, 0.12, 0.14, 0.16, 0.18, 0.20, 0.22, 0.24,
            0.26, 0.28, 0.30, 0.32, 0.34, 0.36],
    0.090: [0.01, 0.02, 0.05, 0.06, 0.09, 0.10, 0.13, 0.14, 0.17, 0.18, 0.21, 0.22, 0.25,
            0.26, 0.29, 0.30, 0.33, 0.34, 0.37, 0.38, 0.41],
    0.105: [0.00, 0.02, 0.04, 0.06, 0.08, 0.10, 0.12, 0.14, 0.16, 0.18, 0.20, 0.22, 0.24,
            0.26, 0.28, 0.30, 0.32],
    0.120: [0.00, 0.02, 0.04, 0.06, 0.08, 0.10, 0.12, 0.14, 0.16, 0.18, 0.20, 0.22, 0.24,
            0.26, 0.28, 0.30, 0.32, 0.34, 0.36],
    0.135: [0.00, 0.02, 0.04, 0.06, 0.08, 0.10, 0.12, 0.14, 0.16, 0.18, 0.20, 0.22, 0.24],
    0.150: [0.01, 0.02, 0.05, 0.06, 0.09, 0.10, 0.13, 0.14, 0.17, 0.18, 0.21, 0.22, 0.25],
    0.165: [0.00, 0.02, 0.04, 0.06, 0.08, 0.10, 0.12, 0.14, 0.16],
    0.180: [0.00, 0.02, 0.04, 0.06, 0.09, 0.12, 0.15],
}

# axis tick values
avhhin_xticks = [50, 100, 150, 200]
avhhin_yticks = [50, 100, 150]
pvachu_xticks = [0.0, 0.1, 0.2, 0.3, 0.4]
pvachu_yticks = [0.0, 0.05, 0.10, 0.15, 0.20, 0.25, 0.30, 0.35]
numhhs_ticks = [0, 1, 2, 3, 4, 5]
bltyr_xticks = [0.0, 0.5, 1.0, 1.5, 2.0]
bltyr_yticks = [0.0, 0.5, 1.0, 1.5, 2.0, 2.5]

W, H = 407, 315


def cols_to_pairs(cols):
    return [(x, y) for x, ys in cols.items() for y in ys]


def panel(pairs, xname, yname, title, xdom, ydom, xticks, yticks, xfmt, yfmt,
          ylabexpr=None, dash=(6, 5), lw=1.0, toff=20):
    df = pd.DataFrame(pairs, columns=[xname, yname])
    # visible part of the y = x reference line inside the plot box
    lo = max(xdom[0], ydom[0])
    hi = min(xdom[1], ydom[1])
    ref = pd.DataFrame({xname: [lo, hi], yname: [lo, hi]})
    xaxis = alt.Axis(values=xticks, format=xfmt, title=xname, labelPadding=22,
                     titleY=100, titleBaseline="top")
    yargs = dict(values=yticks, format=yfmt, title=yname, labelAngle=270,
                 labelAlign="center", labelBaseline="bottom", labelPadding=13,
                 titleX=-86, titleY=H / 2, titleBaseline="bottom", titleAngle=270,
                 titleAlign="center")
    if ylabexpr:
        yargs["labelExpr"] = ylabexpr
    yaxis = alt.Axis(**yargs)
    X = alt.X(f"{xname}:Q", scale=alt.Scale(domain=list(xdom), nice=False, zero=False), axis=xaxis)
    Y = alt.Y(f"{yname}:Q", scale=alt.Scale(domain=list(ydom), nice=False, zero=False), axis=yaxis)
    pts = alt.Chart(df).mark_point(shape="diamond", filled=False, color="black",
                                   size=115, strokeWidth=1.8, opacity=1, clip=True).encode(x=X, y=Y)
    line = alt.Chart(ref).mark_line(color="red", strokeDash=list(dash), strokeWidth=lw,
                                    clip=True).encode(x=X, y=Y)
    return alt.layer(pts, line).properties(
        width=W, height=H,
        title=alt.TitleParams(title, font=FONT, fontSize=29, fontWeight="bold", color="black",
                              anchor="middle", frame="group", baseline="alphabetic", offset=toff),
    )


p1 = panel(avhhin_pairs + avhhin_dense + cols_to_pairs(avhhin_core_cols), "AVHHIN0", "AVHHIN9",
           "Average Household Income", (4.4, 229.0), (3.0, 164.4),
           avhhin_xticks, avhhin_yticks, "d", "d", dash=(5, 3), lw=2.0)
p2 = panel(pvachu_pairs + cols_to_pairs(pvachu_core_cols), "PVACHU0", "PVACHU9", "Vacancy Rates",
           (-0.017, 0.404), (-0.0156, 0.3747), pvachu_xticks, pvachu_yticks, ".1f", ".2f",
           ylabexpr="abs(datum.value*10 - round(datum.value*10)) < 0.001 ? datum.label : ''",
           dash=(7, 7), lw=1.0)
p3 = panel(numhhs_pairs + cols_to_pairs(numhhs_core_cols), "NUMHHS0", "NUMHHS9",
           "Number of Households", (-0.18, 5.30), (-0.17, 5.22),
           numhhs_ticks, numhhs_ticks, "d", "d", dash=(6, 5), lw=1.0)
p4 = panel(bltyr_pairs + cols_to_pairs(bltyr_core_cols), "BLTYR0", "BLTYR9", "No. of New Units",
           (-0.096, 2.396), (-0.10, 2.50), bltyr_xticks, bltyr_yticks, ".1f", ".1f",
           dash=(7, 7), lw=1.0, toff=2)

chart = alt.concat(
    p1, p2, p3, p4, columns=2, spacing={"row": 275, "column": 184}, bounds="flush",
).properties(
    padding={"left": 13, "top": 11, "right": 5, "bottom": 0},
    background="white",
).configure_view(
    stroke="black", strokeWidth=1
).configure_axis(
    domain=False, grid=False, ticks=True, tickColor="black", tickWidth=1, tickSize=16,
    labelFont=FONT, labelFontSize=25, labelColor="black", labelFlush=False,
    labelOverlap=False, labelBound=False,
    titleFont=FONT, titleFontSize=25, titleFontWeight="normal", titleColor="black",
)

chart.save("out.html", embed_options={"renderer": "svg", "actions": False})
